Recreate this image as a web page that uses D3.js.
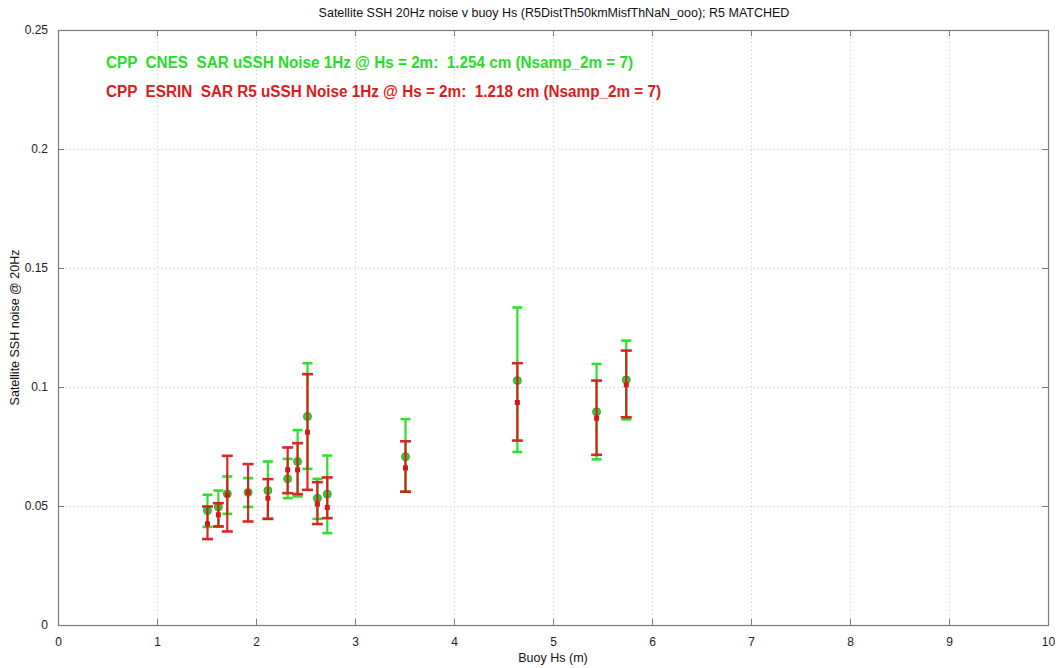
<!DOCTYPE html>
<html>
<head>
<meta charset="utf-8">
<script src="https://cdn.jsdelivr.net/npm/d3@7"></script>
<style>
  html, body { margin: 0; padding: 0; background: #fff; }
  svg { display: block; font-family: "Liberation Sans", Arial, Helvetica, sans-serif; }
  .legend { white-space: pre; }
</style>
</head>
<body>
<svg id="chart" width="1061" height="668"></svg>
<script>
// Buoy significant wave height (m) for each matched bin
const hs = [1.51, 1.62, 1.71, 1.92, 2.12, 2.32, 2.42, 2.52, 2.62, 2.72, 3.51, 4.64, 5.44, 5.74];

// CNES SAR 20 Hz SSH noise (m): mean and error-bar limits
const cnesMean = [0.0481, 0.0496, 0.0551, 0.0557, 0.0565, 0.0614, 0.0687, 0.0876, 0.0533, 0.0550, 0.0707, 0.1027, 0.0896, 0.1030];
const cnesLo   = [0.0412, 0.0414, 0.0467, 0.0496, 0.0446, 0.0533, 0.0540, 0.0656, 0.0446, 0.0386, 0.0560, 0.0727, 0.0696, 0.0864];
const cnesHi   = [0.0547, 0.0565, 0.0624, 0.0617, 0.0687, 0.0698, 0.0819, 0.1100, 0.0614, 0.0712, 0.0865, 0.1334, 0.1097, 0.1195];

// ESRIN SAR R5 20 Hz SSH noise (m): mean and error-bar limits
const esrinMean = [0.0425, 0.0463, 0.0547, 0.0557, 0.0533, 0.0652, 0.0652, 0.0810, 0.0508, 0.0494, 0.0660, 0.0935, 0.0869, 0.1009];
const esrinLo   = [0.0361, 0.0414, 0.0393, 0.0435, 0.0446, 0.0554, 0.0550, 0.0568, 0.0424, 0.0449, 0.0560, 0.0775, 0.0715, 0.0873];
const esrinHi   = [0.0498, 0.0512, 0.0711, 0.0676, 0.0613, 0.0746, 0.0764, 0.1054, 0.0600, 0.0620, 0.0772, 0.1100, 0.1027, 0.1153];

const xTicks = [0, 1, 2, 3, 4, 5, 6, 7, 8, 9, 10];
const yTicks = [0, 0.05, 0.1, 0.15, 0.2, 0.25];
const yTickLabels = ["0", "0.05", "0.1", "0.15", "0.2", "0.25"];

const titleText = "Satellite SSH 20Hz noise v buoy Hs (R5DistTh50kmMisfThNaN_ooo); R5 MATCHED";
const xLabel = "Buoy Hs (m)";
const yLabel = "Satellite SSH noise @ 20Hz";
const legendCnes  = "CPP  CNES  SAR uSSH Noise 1Hz @ Hs = 2m:  1.254 cm (Nsamp_2m = 7)";
const legendEsrin = "CPP  ESRIN  SAR R5 uSSH Noise 1Hz @ Hs = 2m:  1.218 cm (Nsamp_2m = 7)";

const GREEN = "#2ee02e";
const RED = "#d81818";

const svg = d3.select("#chart");
const m = { left: 58, right: 1048, top: 30, bottom: 625 };

const x = d3.scaleLinear().domain([0, 10]).range([m.left, m.right]);
const y = d3.scaleLinear().domain([0, 0.25]).range([m.bottom, m.top]);

// grid
const grid = svg.append("g").attr("stroke", "#c8c8c8").attr("stroke-width", 1)
  .attr("stroke-dasharray", "1,3");
grid.selectAll("line.gx").data(xTicks.slice(1, -1)).join("line")
  .attr("x1", d => Math.round(x(d)) + 0.5).attr("x2", d => Math.round(x(d)) + 0.5)
  .attr("y1", m.top).attr("y2", m.bottom);
grid.selectAll("line.gy").data(yTicks.slice(1, -1)).join("line")
  .attr("y1", d => Math.round(y(d)) + 0.5).attr("y2", d => Math.round(y(d)) + 0.5)
  .attr("x1", m.left).attr("x2", m.right);

// axes with inward ticks on all four sides
const axisColor = "#7a7a7a";
function styleAxis(g) {
  g.select(".domain").remove();
  g.selectAll(".tick line").attr("stroke", axisColor);
  g.selectAll(".tick text").attr("fill", "#222").attr("font-size", 12)
    .attr("font-family", "\"Liberation Sans\", Arial, sans-serif");
}
svg.append("g").attr("transform", `translate(0,${m.bottom})`)
  .call(d3.axisBottom(x).tickValues(xTicks).tickFormat(d3.format("d")).tickSizeInner(-6).tickPadding(12))
  .call(styleAxis);
svg.append("g").attr("transform", `translate(0,${m.top})`)
  .call(d3.axisTop(x).tickValues(xTicks).tickFormat("").tickSizeInner(-6))
  .call(styleAxis);
svg.append("g").attr("transform", `translate(${m.left},0)`)
  .call(d3.axisLeft(y).tickValues(yTicks).tickFormat((d, i) => yTickLabels[i]).tickSizeInner(-6).tickPadding(10))
  .call(styleAxis);
svg.append("g").attr("transform", `translate(${m.right},0)`)
  .call(d3.axisRight(y).tickValues(yTicks).tickFormat("").tickSizeInner(-6))
  .call(styleAxis);

svg.append("rect")
  .attr("x", m.left + 0.5).attr("y", m.top + 0.5)
  .attr("width", m.right - m.left).attr("height", m.bottom - m.top)
  .attr("fill", "none").attr("stroke", axisColor).attr("stroke-width", 1.2);

// error bars
function errorBars(mean, lo, hi, color, capHalf, opacity, cls) {
  const rows = hs.map((h, i) => ({ h, mean: mean[i], lo: lo[i], hi: hi[i] }));
  const g = svg.append("g").attr("class", cls).attr("stroke", color).attr("stroke-width", 2.2)
    .attr("opacity", opacity);
  g.selectAll("line.v").data(rows).join("line")
    .attr("x1", d => x(d.h)).attr("x2", d => x(d.h))
    .attr("y1", d => y(d.lo)).attr("y2", d => y(d.hi));
  g.selectAll("line.t").data(rows).join("line")
    .attr("x1", d => x(d.h) - capHalf).attr("x2", d => x(d.h) + capHalf)
    .attr("y1", d => y(d.hi)).attr("y2", d => y(d.hi)).attr("stroke-width", 2.6);
  g.selectAll("line.b").data(rows).join("line")
    .attr("x1", d => x(d.h) - capHalf).attr("x2", d => x(d.h) + capHalf)
    .attr("y1", d => y(d.lo)).attr("y2", d => y(d.lo)).attr("stroke-width", 2.6);
  return rows;
}

const cnesRows = errorBars(cnesMean, cnesLo, cnesHi, GREEN, 5, 1, "cnes");
svg.append("g").selectAll("circle").data(cnesRows).join("circle")
  .attr("cx", d => x(d.h)).attr("cy", d => y(d.mean)).attr("r", 4)
  .attr("fill", "#3cc83c").attr("stroke", "#2fb02f").attr("stroke-width", 1);

const esrinRows = errorBars(esrinMean, esrinLo, esrinHi, RED, 5.5, 0.93, "esrin");
svg.append("g").selectAll("rect").data(esrinRows).join("rect")
  .attr("x", d => x(d.h) - 2.5).attr("y", d => y(d.mean) - 2.5)
  .attr("width", 5).attr("height", 5)
  .attr("fill", RED);

// titles and labels
svg.append("text").attr("x", 554).attr("y", 17).attr("text-anchor", "middle")
  .attr("font-size", 12.5).attr("fill", "#111").text(titleText);
svg.append("text").attr("x", 553).attr("y", 662).attr("text-anchor", "middle")
  .attr("font-size", 12.5).attr("fill", "#111").text(xLabel);
svg.append("text").attr("transform", `translate(19,${(m.top + m.bottom) / 2}) rotate(-90)`)
  .attr("text-anchor", "middle").attr("font-size", 12.5).attr("fill", "#111").text(yLabel);

// legend text
svg.append("text").attr("class", "legend").attr("x", 106).attr("y", 68)
  .attr("font-family", "\"Liberation Sans Narrow\", \"Liberation Sans\", Arial, sans-serif")
  .attr("font-size", 16).attr("font-weight", "bold").attr("fill", "#28dd28")
  .attr("textLength", 527).attr("lengthAdjust", "spacingAndGlyphs").text(legendCnes);
svg.append("text").attr("class", "legend").attr("x", 106).attr("y", 97)
  .attr("font-family", "\"Liberation Sans Narrow\", \"Liberation Sans\", Arial, sans-serif")
  .attr("font-size", 16).attr("font-weight", "bold").attr("fill", "#dd1a1a")
  .attr("textLength", 555).attr("lengthAdjust", "spacingAndGlyphs").text(legendEsrin);
</script>
</body>
</html>
